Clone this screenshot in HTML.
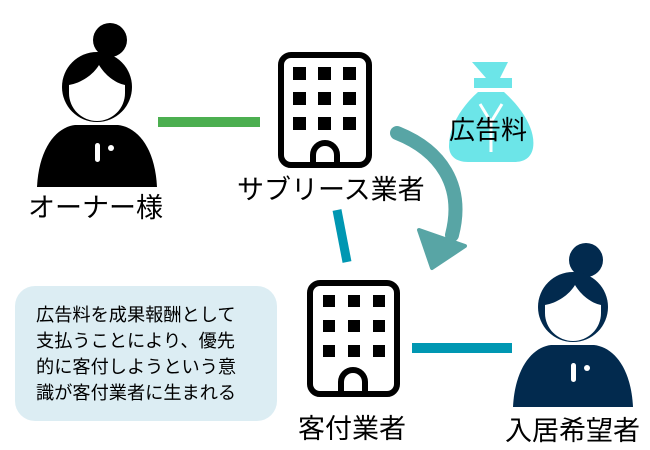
<!DOCTYPE html>
<html><head><meta charset="utf-8"><style>
body{margin:0;width:650px;height:450px;background:#fff;overflow:hidden;position:relative;font-family:"Liberation Sans","Noto Sans CJK JP",sans-serif;}
.t{position:absolute;white-space:nowrap;color:#000;line-height:1;}
</style></head><body>
<svg width="650" height="450" style="position:absolute;left:0;top:0">
<defs>
<g id="person">
  <circle cx="13" cy="-47" r="17"/>
  <circle cx="0" cy="0" r="35"/>
  <path d="M-60 100 C-58 60 -40 40 -22 38 L21 38 C40 40 58 60 60 100 Z"/>
</g>
</defs>
<!-- owner -->
<g transform="translate(97,87)" fill="#000">
  <use href="#person"/>
  <path d="M-28 6 A28 28 0 0 0 28 6 L28 -2 C18 -4 8 -12 2 -22 C-4 -12 -16 -4 -28 -2 Z" fill="#fff"/>
  <rect x="-2" y="56" width="5" height="19" rx="2.5" fill="#fff"/>
  <circle cx="14" cy="61" r="3" fill="#fff"/>
</g>
<!-- tenant -->
<g transform="translate(573,307)" fill="#022a4e">
  <use href="#person"/>
  <path d="M-28 6 A28 28 0 0 0 28 6 L28 -2 C18 -4 8 -12 2 -22 C-4 -12 -16 -4 -28 -2 Z" fill="#fff"/>
  <rect x="-2" y="56" width="5" height="19" rx="2.5" fill="#fff"/>
  <circle cx="14" cy="61" r="3" fill="#fff"/>
</g>
<!-- green line -->
<rect x="158" y="117" width="102" height="10" fill="#4caf50"/>
<!-- building 1 -->
<g>
  <rect x="281" y="55" width="88" height="110" rx="10" fill="none" stroke="#000" stroke-width="6"/>
  <g fill="#000">
    <rect x="293" y="67" width="13" height="13"/><rect x="318" y="67" width="13" height="13"/><rect x="343" y="67" width="13" height="13"/>
    <rect x="293" y="92" width="13" height="13"/><rect x="318" y="92" width="13" height="13"/><rect x="343" y="92" width="13" height="13"/>
    <rect x="293" y="117" width="13" height="13"/><rect x="318" y="117" width="13" height="13"/><rect x="343" y="117" width="13" height="13"/>
  </g>
  <path d="M313 166 L313 155 A12 12 0 0 1 337 155 L337 166" fill="none" stroke="#000" stroke-width="6"/>
</g>
<!-- building 2 -->
<g>
  <rect x="310" y="283" width="87" height="111" rx="10" fill="none" stroke="#000" stroke-width="6"/>
  <g fill="#000">
    <rect x="323" y="295" width="12" height="12"/><rect x="348" y="295" width="12" height="12"/><rect x="373" y="295" width="12" height="12"/>
    <rect x="323" y="320" width="12" height="12"/><rect x="348" y="320" width="12" height="12"/><rect x="373" y="320" width="12" height="12"/>
    <rect x="323" y="345" width="12" height="12"/><rect x="348" y="345" width="12" height="12"/><rect x="373" y="345" width="12" height="12"/>
  </g>
  <path d="M341 395 L341 382 A12 12 0 0 1 365 382 L365 395" fill="none" stroke="#000" stroke-width="6"/>
</g>
<!-- blue lines -->
<line x1="337" y1="210" x2="347" y2="262" stroke="#0097b2" stroke-width="9"/>
<rect x="412" y="343" width="100" height="10" fill="#0097b2"/>
<!-- money bag -->
<g fill="#6ce5e8">
  <path d="M472 62 L508 62 L500 78 L512 78 L512 88 L474 88 L474 78 L486 78 Z"/>
  <path d="M478 92 L504 92 C522 108 536 130 533 148 C531 158 524 162 514 162 L468 162 C456 162 449 156 449 146 C449 128 460 108 478 92 Z"/>
  <path d="M480 104 L491 122 L502 104" fill="none" stroke="#fff" stroke-width="3"/>
  <line x1="491" y1="122" x2="491" y2="152" stroke="#fff" stroke-width="3"/>
</g>
<!-- curved arrow -->
<path d="M397 133 C440 150 465 185 452 235" fill="none" stroke="#58a5a5" stroke-width="14" stroke-linecap="round"/>
<path d="M419 230 L465 246 L432 268 Z" fill="#58a5a5" stroke="#58a5a5" stroke-width="4" stroke-linejoin="round"/>
<!-- text box -->
<rect x="15" y="286" width="262" height="135" rx="20" fill="#dcedf3"/>
</svg>
<div class="t" style="left:28px;top:195px;font-size:27px;">オーナー様</div>
<div class="t" style="left:237px;top:177px;font-size:27px;">サブリース業者</div>
<div class="t" style="left:449px;top:117px;font-size:26px;">広告料</div>
<div class="t" style="left:298px;top:416px;font-size:27px;">客付業者</div>
<div class="t" style="left:505px;top:418px;font-size:27px;">入居希望者</div>
<div class="t" style="left:36px;top:302px;font-size:18.2px;line-height:26px;">広告料を成果報酬として<br>支払うことにより、優先<br>的に客付しようという意<br>識が客付業者に生まれる</div>
</body></html>
